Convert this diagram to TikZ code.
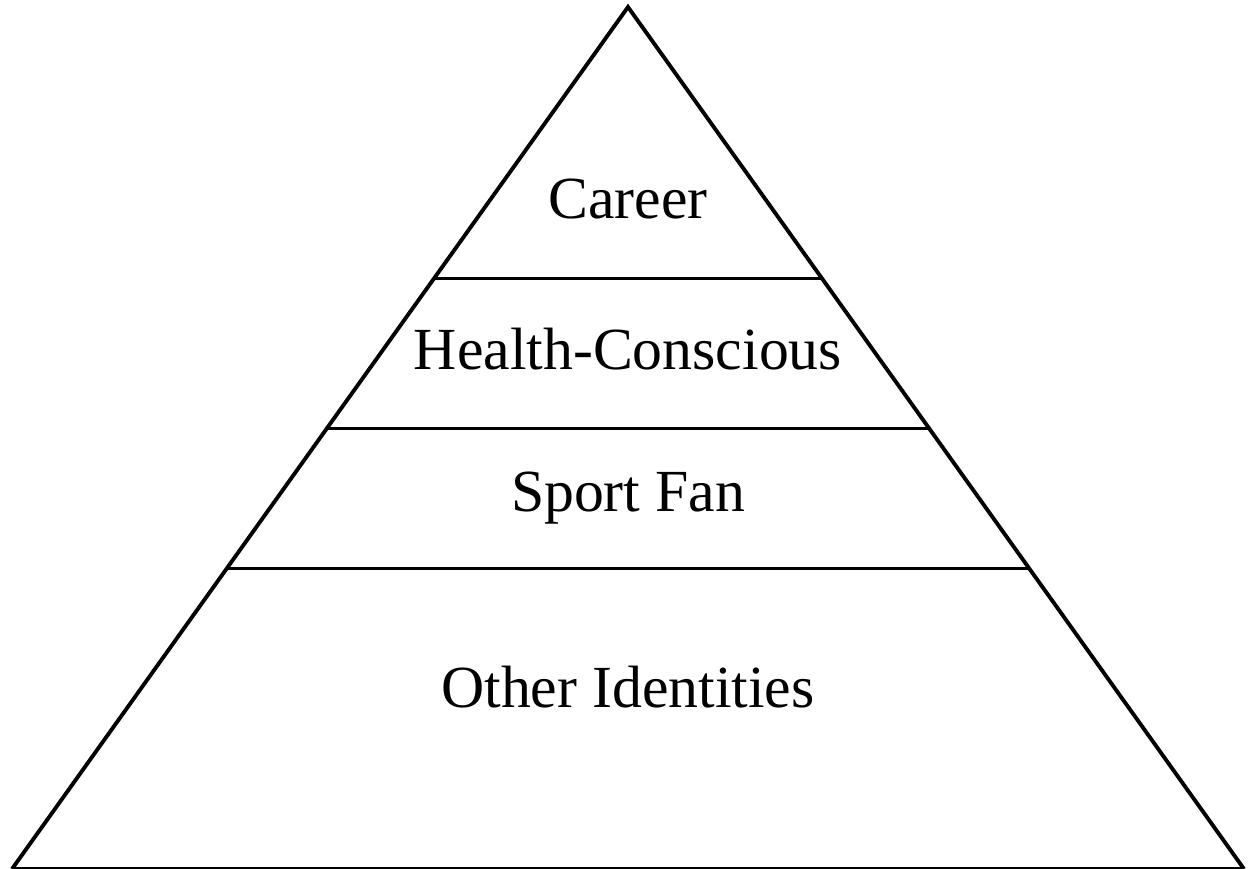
\documentclass[tikz,border=0pt]{standalone}
\usepackage{fontspec}
\setmainfont{Liberation Serif}
\usetikzlibrary{calc}
\tikzstyle{pEdge} = [line width=2.2pt, line join=miter]
\tikzstyle{pLayer} = [line width=2.0pt]
\tikzstyle{pLabel} = [font=\fontsize{34}{40}\selectfont, inner sep=0pt]

\begin{document}
\begin{tikzpicture}[x=0.02cm, y=-0.02cm]
    \useasboundingbox (0,0) rectangle (1249,869);
    \coordinate (top) at (628,7);
    \coordinate (baseL) at (12,869);
    \coordinate (baseR) at (1244,869);

    % outline of the pyramid
    \draw [pEdge] (baseL) -- (top) -- (baseR);
    \draw [pEdge] (baseL) -- (baseR);

    % dividing lines between the levels
    \foreach \t/\n in {0.3148/a, 0.489/b, 0.6516/c} {
        \coordinate (\n L) at ($(top)!\t!(baseL)$);
        \coordinate (\n R) at ($(top)!\t!(baseR)$);
        \draw [pLayer] (\n L) -- (\n R);
    }

    \node (career) [pLabel] at (628,199) {Career};
    \node (health) [pLabel] at (628,349) {Health-Conscious};
    \node (sport) [pLabel] at (628,498) {Sport Fan};
    \node (other) [pLabel] at (628,687) {Other Identities};
\end{tikzpicture}
\end{document}
